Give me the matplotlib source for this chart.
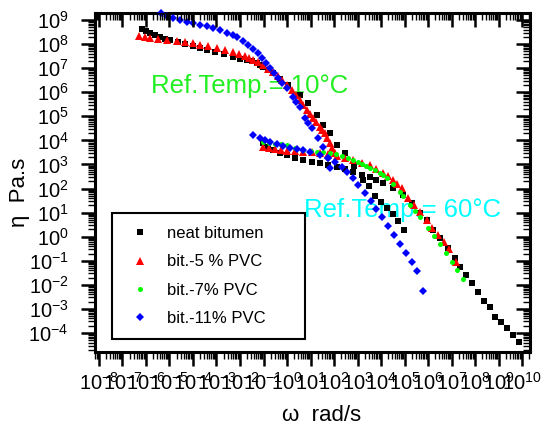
import numpy as np
import matplotlib
matplotlib.use("Agg")
import matplotlib.pyplot as plt
from matplotlib.ticker import LogLocator, NullFormatter
from matplotlib.lines import Line2D

plt.rcParams['font.family'] = ['Liberation Sans', 'DejaVu Sans']
plt.rcParams['mathtext.fontset'] = 'custom'
plt.rcParams['mathtext.rm'] = 'Liberation Sans'
plt.rcParams['mathtext.it'] = 'Liberation Sans'

# ---- data (log10 of omega [rad/s] and log10 of eta [Pa.s]) ----
neat10_logw = [-6.18, -6.00, -5.83, -5.60, -5.40, -5.20, -4.98, -4.65, -4.34, -4.00, -3.70, -3.40,
               -3.06, -2.70, -2.30, -2.00, -1.70, -1.50, -1.28, -1.15, -1.02, -0.80, -0.60, -0.28,
               0.04, 0.55, 0.89, 1.28, 1.53, 1.83, 2.13, 2.47, 2.85, 3.23, 3.49, 3.74, 4.00, 4.25,
               4.51, 4.72, 4.98]
neat10_logeta = [8.63, 8.55, 8.46, 8.37, 8.29, 8.23, 8.17, 8.08, 8.00, 7.92, 7.84, 7.76,
                 7.67, 7.57, 7.46, 7.40, 7.34, 7.28, 7.21, 7.13, 7.05, 6.93, 6.80, 6.56,
                 6.30, 5.89, 5.55, 5.05, 4.64, 4.31, 3.81, 3.48, 2.94, 2.36, 2.11, 1.69, 1.44, 1.19,
                 0.94, 0.65, 0.28]
neat60_logw = [-1.02, -0.80, -0.60, -0.30, 0.00, 0.35, 0.68, 1.05, 1.40, 1.75, 2.13, 2.45, 2.81,
               3.20, 3.53, 3.80, 4.08, 4.51, 4.94, 5.32, 5.66, 5.96, 6.21, 6.51, 6.85, 7.15, 7.36,
               7.62, 7.87, 8.13, 8.38, 8.64, 8.85, 9.11, 9.36, 9.62, 9.87]
neat60_logeta = [3.89, 3.72, 3.60, 3.48, 3.39, 3.28, 3.19, 3.12, 3.06, 2.98, 2.90, 2.80, 2.69,
                 2.58, 2.48, 2.36, 2.23, 2.02, 1.73, 1.40, 0.98, 0.69, 0.28, -0.05, -0.47, -0.88, -1.26,
                 -1.59, -1.92, -2.30, -2.67, -2.92, -3.33, -3.54, -3.79, -4.08, -4.37]

pvc5_10_logw = [-6.30, -6.05, -5.83, -5.50, -5.11, -4.70, -4.34, -4.00, -3.70, -3.35, -2.98, -2.65,
                -2.30, -2.05, -1.79, -1.60, -1.45, -1.25, -1.02, -0.80, -0.60, -0.40, -0.21, 0.00,
                0.21, 0.38, 0.55, 0.70, 0.85, 0.98, 1.11, 1.25, 1.40, 1.50, 1.62, 1.72, 1.83, 1.93,
                2.04]
pvc5_10_logeta = [8.34, 8.30, 8.25, 8.21, 8.17, 8.13, 8.09, 8.03, 7.96, 7.90, 7.84, 7.76,
                  7.67, 7.59, 7.50, 7.42, 7.34, 7.24, 7.13, 6.98, 6.84, 6.68, 6.51, 6.30,
                  6.09, 5.90, 5.68, 5.47, 5.26, 5.10, 4.93, 4.75, 4.56, 4.45, 4.31, 4.10, 3.89, 3.70,
                  3.48]
pvc5_60_logw = [-1.02, -0.75, -0.51, -0.25, 0.00, 0.35, 0.68, 1.05, 1.40, 1.75, 2.13, 2.45, 2.81,
                3.20, 3.53, 3.80, 4.08, 4.30, 4.51, 4.70, 4.89, 5.15, 5.40, 5.66, 5.96, 6.17, 6.43,
                6.68, 6.89, 7.19]
pvc5_60_logeta = [3.73, 3.68, 3.64, 3.60, 3.56, 3.54, 3.52, 3.50, 3.48, 3.42, 3.35, 3.28, 3.19,
                  3.08, 2.98, 2.82, 2.65, 2.50, 2.36, 2.20, 2.02, 1.61, 1.32, 1.03, 0.69, 0.36, 0.07,
                  -0.22, -0.51, -1.05]

pvc7_60_logw = [-1.02, -0.75, -0.51, -0.25, 0.00, 0.35, 0.68, 1.00, 1.28, 1.55, 1.83, 2.10, 2.34,
                2.60, 2.81, 3.00, 3.19, 3.35, 3.53, 3.75, 3.96, 4.10, 4.25, 4.50, 4.81, 4.95, 5.23,
                5.45, 5.66, 6.00, 6.25, 6.51, 6.77, 7.02, 7.23, 7.49]
pvc7_60_logeta = [3.93, 3.89, 3.85, 3.83, 3.81, 3.70, 3.60, 3.56, 3.52, 3.50, 3.48, 3.42, 3.35,
                  3.27, 3.19, 3.10, 3.02, 2.94, 2.85, 2.75, 2.65, 2.56, 2.44, 2.18, 1.86, 1.68, 1.32,
                  1.07, 0.82, 0.36, 0.03, -0.30, -0.68, -1.05, -1.38, -1.76]

pvc11_10_logw = [-5.36, -5.11, -4.85, -4.55, -4.26, -4.00, -3.70, -3.40, -3.15, -2.85, -2.55, -2.30,
                 -2.13, -1.87, -1.66, -1.45, -1.25, -1.06, -0.90, -0.72, -0.55, -0.38, -0.20, 0.00,
                 0.25, 0.40, 0.55, 0.77, 0.90, 1.06, 1.32, 1.53, 1.74, 1.83]
pvc11_10_logeta = [9.28, 9.17, 9.08, 9.00, 8.92, 8.88, 8.79, 8.75, 8.67, 8.58, 8.46, 8.38,
                   8.29, 8.13, 7.96, 7.80, 7.62, 7.42, 7.22, 7.01, 6.80, 6.59, 6.38, 6.18,
                   5.80, 5.60, 5.39, 4.93, 4.72, 4.51, 4.10, 3.73, 3.27, 2.85]
pvc11_60_logw = [-1.45, -1.15, -0.94, -0.72, -0.43, -0.17, 0.13, 0.43, 0.68, 0.98, 1.40, 1.74,
                 2.04, 2.34, 2.55, 2.81, 3.02, 3.32, 3.57, 3.79, 4.04, 4.30, 4.55, 4.81, 5.06,
                 5.32, 5.53, 5.79]
pvc11_60_logeta = [4.22, 4.10, 4.02, 3.93, 3.85, 3.77, 3.68, 3.64, 3.60, 3.52, 3.39, 3.27,
                   3.10, 2.90, 2.69, 2.44, 2.15, 1.82, 1.48, 1.15, 0.82, 0.44, 0.07, -0.30, -0.68,
                   -1.05, -1.42, -2.25]

series_labels = ["neat bitumen", "bit.-5 % PVC", "bit.-7% PVC", "bit.-11% PVC"]
x_label = "\u03c9  rad/s"
y_label = "\u03b7  Pa.s"
ref_text_10 = "Ref.Temp.= 10\u00b0C"
ref_text_60 = "Ref.Temp.= 60\u00b0C"

# ---- figure ----
fig = plt.figure(figsize=(5.48, 4.30), dpi=100)
ax = fig.add_axes([95/548, 1-352/430, 435/548, 339/430])
ax.set_xscale('log')
ax.set_yscale('log')
ax.set_xlim(10**-8.17, 10**10.34)
ax.set_ylim(10**-4.79, 10**9.29)

def p(lw, le):
    return 10**np.asarray(lw), 10**np.asarray(le)

styles = [
    dict(marker='s', color='black', ms=5.0, ls='none', mew=0),
    dict(marker='^', color='red', ms=6.0, ls='none', mew=0),
    dict(marker='o', color='#00ff00', ms=3.6, ls='none', mew=0),
    dict(marker='D', color='blue', ms=3.7, ls='none', mew=0),
]

ax.plot(*p(neat10_logw, neat10_logeta), zorder=3, clip_on=False, **styles[0])
ax.plot(*p(neat60_logw, neat60_logeta), zorder=3, clip_on=False, **styles[0])
ax.plot(*p(pvc5_10_logw, pvc5_10_logeta), zorder=4, **styles[1])
ax.plot(*p(pvc5_60_logw, pvc5_60_logeta), zorder=4, **styles[1])
ax.plot(*p(pvc7_60_logw, pvc7_60_logeta), zorder=5, **styles[2])
ax.plot(*p(pvc11_10_logw, pvc11_10_logeta), zorder=6, clip_on=False, **styles[3])
ax.plot(*p(pvc11_60_logw, pvc11_60_logeta), zorder=6, **styles[3])

ax.text(0.356, 0.786, ref_text_10, transform=ax.transAxes, color='#22ee22',
        fontsize=18.5, ha='center', va='center', zorder=1)
ax.text(0.708, 0.418, ref_text_60, transform=ax.transAxes, color='#00ffff',
        fontsize=18.5, ha='center', va='center', zorder=1)

# ticks
for axis in (ax.xaxis, ax.yaxis):
    axis.set_major_locator(LogLocator(base=10, numticks=100))
    axis.set_minor_locator(LogLocator(base=10, subs=np.arange(2, 10), numticks=100))
    axis.set_minor_formatter(NullFormatter())
ax.tick_params(which='major', direction='out', length=10, width=1.8, labelsize=14.5)
ax.tick_params(which='minor', direction='out', length=5, width=1.0)
ax.tick_params(axis='y', pad=9)
ax.tick_params(axis='x', pad=4)
for s in ax.spines.values():
    s.set_linewidth(2.2)

# inward ticks on top and right
axt = ax.twiny()
axt.set_xscale('log')
axt.set_xlim(ax.get_xlim())
axt.xaxis.set_major_locator(LogLocator(base=10, numticks=100))
axt.xaxis.set_minor_locator(LogLocator(base=10, subs=np.arange(2, 10), numticks=100))
axt.tick_params(which='major', direction='in', length=10, width=1.8, labeltop=False)
axt.tick_params(which='minor', direction='in', length=5, width=1.0)
axr = ax.twinx()
axr.set_yscale('log')
axr.set_ylim(ax.get_ylim())
axr.yaxis.set_major_locator(LogLocator(base=10, numticks=100))
axr.yaxis.set_minor_locator(LogLocator(base=10, subs=np.arange(2, 10), numticks=100))
axr.tick_params(which='major', direction='in', length=10, width=1.8, labelright=False)
axr.tick_params(which='minor', direction='in', length=5, width=1.0)

ax.set_xlabel(x_label, fontsize=16)
ax.set_ylabel(y_label, fontsize=16)
ax.xaxis.set_label_coords(0.52, -0.155)
ax.yaxis.set_label_coords(-0.15, 0.47)

handles = [Line2D([], [], **st) for st in styles]
leg = ax.legend(handles, series_labels, loc='lower left',
                bbox_to_anchor=(0.039, 0.038, 0.444, 0.372), mode='expand',
                frameon=True, fancybox=False, edgecolor='black', framealpha=1,
                fontsize=12, borderpad=0.78, labelspacing=0.8, handlelength=1.86,
                handletextpad=0.69, numpoints=1, borderaxespad=0)
leg.get_frame().set_linewidth(1.5)
leg.set_zorder(10)

fig.savefig("out.png", dpi=100)
